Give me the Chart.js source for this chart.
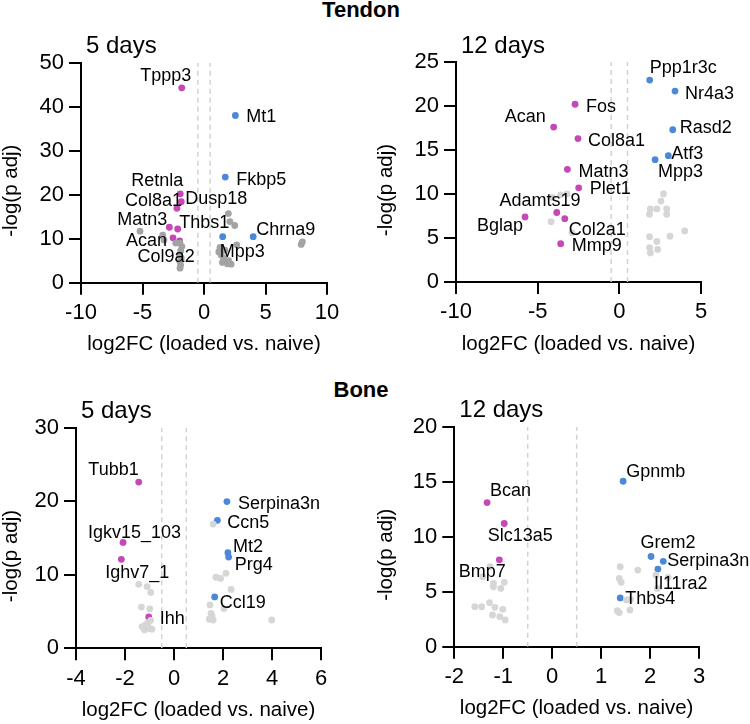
<!DOCTYPE html>
<html>
<head>
<meta charset="utf-8">
<script src="https://cdn.jsdelivr.net/npm/chart.js@4.4.1/dist/chart.umd.min.js"></script>
<style>
  body { margin: 0; background: #fff; }
  #page { position: relative; width: 750px; height: 724px; font-family: "Liberation Sans", Arial, sans-serif; }
  .group { position: absolute; left: 261px; width: 200px; text-align: center; font-weight: bold; font-size: 22px; line-height: 22px; color: #000; }
  .panel { position: absolute; }
</style>
</head>
<body>
<div id="page">
  <div class="group" style="top:-1px">Tendon</div>
  <div class="group" style="top:379px">Bone</div>
  <canvas class="panel" id="tendon5" width="375" height="362" style="left:0;top:0"></canvas>
  <canvas class="panel" id="tendon12" width="375" height="362" style="left:375px;top:0"></canvas>
  <canvas class="panel" id="bone5" width="375" height="362" style="left:0;top:362px"></canvas>
  <canvas class="panel" id="bone12" width="375" height="362" style="left:375px;top:362px"></canvas>
</div>
<script>
// Tendon, 5 days
const tendon5DownGenes = ['Tppp3', 'Retnla', 'Dusp18', 'Col8a1', 'Matn3', 'Thbs1', 'Acan', 'Col9a2'];
const tendon5DownFC = [-1.81, -1.93, -1.85, -2.2, -2.82, -2.14, -2.52, -1.98];
const tendon5DownP = [44.3, 20.2, 18.4, 16.9, 12.6, 12.2, 10.2, 9.5];
const tendon5UpGenes = ['Mt1', 'Fkbp5', 'Mpp3', 'Chrna9'];
const tendon5UpFC = [2.55, 1.73, 1.52, 4.0];
const tendon5UpP = [38.0, 24.0, 10.45, 10.45];
const tendon5OtherFC = [-5.2, -3.36, -3.25, -1.95, -1.8, -1.9, -2.0, -1.85, -1.95, -1.9, -1.95, -2.3,
  1.98, 2.1, 2.5, 2.66, 1.3, 1.2, 1.4, 1.6, 1.5, 1.9, 2.2, 1.7, 2.0, 8.0, 7.9];
const tendon5OtherP = [11.7, 10.8, 9.7, 9.0, 8.2, 7.2, 6.3, 5.6, 4.8, 4.0, 3.3, 9.0,
  15.7, 13.9, 13.0, 8.6, 8.0, 7.0, 6.3, 5.5, 4.6, 4.3, 4.2, 7.4, 5.0, 9.3, 8.7];

// Tendon, 12 days
const tendon12DownGenes = ['Fos', 'Acan', 'Col8a1', 'Matn3', 'Plet1', 'Adamts19', 'Col2a1', 'Bglap', 'Mmp9'];
const tendon12DownFC = [-2.71, -4.02, -2.53, -3.18, -2.49, -3.83, -3.34, -5.77, -3.59];
const tendon12DownP = [20.2, 17.6, 16.3, 12.8, 10.7, 7.9, 7.2, 7.4, 4.35];
const tendon12UpGenes = ['Ppp1r3c', 'Nr4a3', 'Rasd2', 'Atf3', 'Mpp3'];
const tendon12UpFC = [1.86, 3.41, 3.27, 3.0, 2.19];
const tendon12UpP = [22.95, 21.7, 17.3, 14.35, 13.9];
const tendon12OtherFC = [-4.18, -4.1, -3.6, -3.2, -2.9, 2.7, 2.55, 1.9, 2.3, 2.9, 1.85, 2.9,
  4.0, 3.1, 1.85, 2.3, 1.85, 2.35, 1.9];
const tendon12OtherP = [6.85, 9.6, 9.9, 10.0, 5.6, 10.0, 9.2, 8.3, 8.3, 8.3, 7.7, 7.7,
  5.8, 5.2, 5.15, 4.6, 3.9, 3.7, 3.3];

// Bone, 5 days
const bone5DownGenes = ['Tubb1', 'Igkv15_103', 'Ighv7_1', 'Ihh'];
const bone5DownFC = [-1.44, -2.08, -2.15, -1.03];
const bone5DownP = [22.6, 14.4, 12.1, 4.26];
const bone5UpGenes = ['Serpina3n', 'Ccn5', 'Mt2', 'Prg4', 'Ccl19'];
const bone5UpFC = [2.16, 1.77, 2.2, 2.23, 1.66];
const bone5UpP = [19.95, 17.4, 13.0, 12.4, 6.98];
const bone5OtherFC = [1.6, -1.44, -1.1, -0.95, -1.33, -0.99, -1.15, -1.3, -1.0, -1.2, -0.95, -0.9, -1.05,
  1.71, 1.9, 2.12, 2.33, 3.99, 1.47, 1.51, 1.44, 1.6, 1.55, 2.04];
const bone5OtherP = [16.9, 8.7, 8.4, 7.6, 5.6, 5.35, 3.2, 2.95, 2.7, 2.5, 3.8, 2.6, 3.5,
  9.66, 9.5, 10.2, 8.0, 3.85, 5.9, 4.76, 3.95, 3.85, 4.4, 5.4];

// Bone, 12 days
const bone12DownGenes = ['Bcan', 'Slc13a5', 'Bmp7'];
const bone12DownFC = [-1.33, -0.98, -1.08];
const bone12DownP = [13.1, 11.2, 7.9];
const bone12UpGenes = ['Gpnmb', 'Grem2', 'Serpina3n', 'Il11ra2', 'Thbs4'];
const bone12UpFC = [1.45, 2.02, 2.27, 2.16, 1.39];
const bone12UpP = [15.04, 8.2, 7.76, 7.06, 4.43];
const bone12OtherFC = [-1.27, -1.42, -1.2, -1.05, -0.98, -1.28, -1.58, -1.44, -1.17, -1.01, -1.22, -1.07, -0.96, -1.2,
  1.39, 1.75, 1.37, 1.41, 1.52, 1.33, 1.59, 1.37, 2.12, 2.37, 2.15, 1.6];
const bone12OtherP = [7.27, 6.36, 5.76, 5.3, 5.85, 4.0, 3.64, 3.64, 3.58, 3.4, 2.88, 2.73, 2.43, 5.45,
  7.27, 6.97, 6.2, 5.85, 4.25, 3.27, 3.34, 3.1, 6.5, 6.3, 5.3, 4.3];

// axis ranges: [min, max, step]
const tendon5XAxis = [-10, 10, 5];
const tendon5YAxis = [0, 50, 10];
const tendon12XAxis = [-10, 5, 5];
const tendon12YAxis = [0, 25, 5];
const bone5XAxis = [-4, 6, 2];
const bone5YAxis = [0, 30, 10];
const bone12XAxis = [-2, 3, 1];
const bone12YAxis = [0, 20, 5];
const foldCutoff = 0.5;

const FONT = '"Liberation Sans", Arial, sans-serif';
const DOWN_COLOR = '#c647b6';
const UP_COLOR = '#4b89d8';
Chart.defaults.font.family = FONT;
Chart.defaults.color = '#000';

// label placement relative to the point: [dx, dy, align]
const labelPlacement = {
  tendon5: {
    Tppp3: [-16, -12, 'center'], Retnla: [3, -13, 'right'], Dusp18: [4, -3, 'left'],
    Col8a1: [5, -7, 'right'], Matn3: [-2, -7, 'right'], Thbs1: [1.5, -6, 'left'],
    Acan: [-6, 3, 'right'], Col9a2: [15, 16, 'right'], Mt1: [11, 2, 'left'],
    Fkbp5: [11, 3, 'left'], Mpp3: [-3, 15, 'left'], Chrna9: [3, -7, 'left'],
  },
  tendon12: {
    Fos: [11, 3, 'left'], Acan: [-8, -10, 'right'], Col8a1: [10, 2, 'left'],
    Matn3: [11, 3, 'left'], Plet1: [11, 1, 'left'], Adamts19: [-16.7, -11, 'center'],
    Col2a1: [4, 11, 'left'], Bglap: [-2, 9, 'right'], Mmp9: [11, 2, 'left'],
    Ppp1r3c: [0, -12, 'left'], Nr4a3: [10, 3, 'left'], Rasd2: [7, -2, 'left'],
    Atf3: [3, -2, 'left'], Mpp3: [3, 12, 'left'],
  },
  bone5: {
    Tubb1: [0, -12, 'right'], Igkv15_103: [11.5, -9.4, 'center'], Ighv7_1: [-16, 14, 'left'],
    Ihh: [11, 2, 'left'], Serpina3n: [11, 2, 'left'], Ccn5: [10, 3, 'left'],
    Mt2: [5, -6, 'left'], Prg4: [6, 8, 'left'], Ccl19: [5, 6, 'left'],
  },
  bone12: {
    Bcan: [3, -12, 'left'], Slc13a5: [16, 13, 'center'], Bmp7: [-17, 12, 'center'],
    Gpnmb: [3, -9, 'left'], Grem2: [17, -13, 'center'], Serpina3n: [4, 0, 'left'],
    Il11ra2: [-4, 15, 'left'], Thbs4: [5, 1, 'left'],
  },
};

function points(xs, ys) {
  return xs.map((x, i) => ({ x, y: ys[i] }));
}

function cutoffLine(x, yMax) {
  return {
    data: [{ x, y: 0 }, { x, y: yMax }],
    showLine: true,
    borderColor: '#d2d2d2',
    borderWidth: 1.5,
    borderDash: [5, 4],
    pointRadius: 0,
  };
}

function dots(data, color) {
  return { data, backgroundColor: color, borderColor: color, borderWidth: 0, pointRadius: 3.4 };
}

function textPlugin(panel) {
  return {
    id: 'panelText',
    afterDatasetsDraw(chart) {
      const { ctx, chartArea } = chart;
      const midX = (chartArea.left + chartArea.right) / 2;
      const midY = (chartArea.top + chartArea.bottom) / 2;
      ctx.save();
      ctx.fillStyle = '#000';
      ctx.textBaseline = 'middle';

      ctx.font = `24px ${FONT}`;
      ctx.textAlign = 'left';
      ctx.fillText(panel.title, chartArea.left + 5, chartArea.top - 16);

      ctx.font = `20.5px ${FONT}`;
      ctx.textAlign = 'center';
      ctx.fillText('log2FC (loaded vs. naive)', midX, chartArea.bottom + 62);
      ctx.save();
      ctx.translate(11, midY + 18);
      ctx.rotate(-Math.PI / 2);
      ctx.fillText('-log(p adj)', 0, 0);
      ctx.restore();

      ctx.font = `18px ${FONT}`;
      const place = labelPlacement[panel.key];
      [[3, panel.downGenes], [4, panel.upGenes]].forEach(([index, genes]) => {
        const meta = chart.getDatasetMeta(index);
        genes.forEach((gene, i) => {
          const pt = meta.data[i];
          const [dx, dy, align] = place[gene];
          ctx.textAlign = align;
          ctx.fillText(gene, pt.x + dx, pt.y + dy);
        });
      });
      ctx.restore();
    },
  };
}

function axis(range, extra) {
  return Object.assign({
    type: 'linear',
    min: range[0],
    max: range[1],
    ticks: { stepSize: range[2], padding: 5, font: { size: 22 }, color: '#000', autoSkip: false, maxRotation: 0 },
    grid: { display: true, drawOnChartArea: false, drawTicks: true, tickLength: 12, color: '#000', lineWidth: 2 },
    border: { display: true, color: '#000', width: 2 },
  }, extra);
}

function buildPanel(panel) {
  const [left, top, right, bottom] = panel.area;
  new Chart(document.getElementById(panel.key), {
    type: 'scatter',
    data: {
      datasets: [
        cutoffLine(-foldCutoff, panel.yAxis[1]),
        cutoffLine(foldCutoff, panel.yAxis[1]),
        dots(points(panel.otherFC, panel.otherP), panel.otherColor),
        dots(points(panel.downFC, panel.downP), DOWN_COLOR),
        dots(points(panel.upFC, panel.upP), UP_COLOR),
      ],
    },
    options: {
      responsive: false,
      animation: false,
      events: [],
      layout: { padding: { left: 0, top, right: 375 - right, bottom: 362 - bottom - 60 } },
      plugins: { legend: { display: false }, tooltip: { enabled: false } },
      scales: {
        x: axis(panel.xAxis, { afterFit(scale) { scale.height = 60; } }),
        y: axis(panel.yAxis, { afterFit(scale) { scale.width = left; } }),
      },
    },
    plugins: [textPlugin(panel)],
  });
}

buildPanel({
  key: 'tendon5', title: '5 days', area: [81, 62.7, 327, 282.7],
  xAxis: tendon5XAxis, yAxis: tendon5YAxis, otherColor: '#a3a3a3',
  downGenes: tendon5DownGenes, downFC: tendon5DownFC, downP: tendon5DownP,
  upGenes: tendon5UpGenes, upFC: tendon5UpFC, upP: tendon5UpP,
  otherFC: tendon5OtherFC, otherP: tendon5OtherP,
});
buildPanel({
  key: 'tendon12', title: '12 days', area: [81, 62, 326, 282],
  xAxis: tendon12XAxis, yAxis: tendon12YAxis, otherColor: '#d6d6d6',
  downGenes: tendon12DownGenes, downFC: tendon12DownFC, downP: tendon12DownP,
  upGenes: tendon12UpGenes, upFC: tendon12UpFC, upP: tendon12UpP,
  otherFC: tendon12OtherFC, otherP: tendon12OtherP,
});
buildPanel({
  key: 'bone5', title: '5 days', area: [76, 65.7, 321, 286.3],
  xAxis: bone5XAxis, yAxis: bone5YAxis, otherColor: '#d6d6d6',
  downGenes: bone5DownGenes, downFC: bone5DownFC, downP: bone5DownP,
  upGenes: bone5UpGenes, upFC: bone5UpFC, upP: bone5UpP,
  otherFC: bone5OtherFC, otherP: bone5OtherP,
});
buildPanel({
  key: 'bone12', title: '12 days', area: [79.3, 64.7, 324, 284.7],
  xAxis: bone12XAxis, yAxis: bone12YAxis, otherColor: '#d6d6d6',
  downGenes: bone12DownGenes, downFC: bone12DownFC, downP: bone12DownP,
  upGenes: bone12UpGenes, upFC: bone12UpFC, upP: bone12UpP,
  otherFC: bone12OtherFC, otherP: bone12OtherP,
});
</script>
</body>
</html>
